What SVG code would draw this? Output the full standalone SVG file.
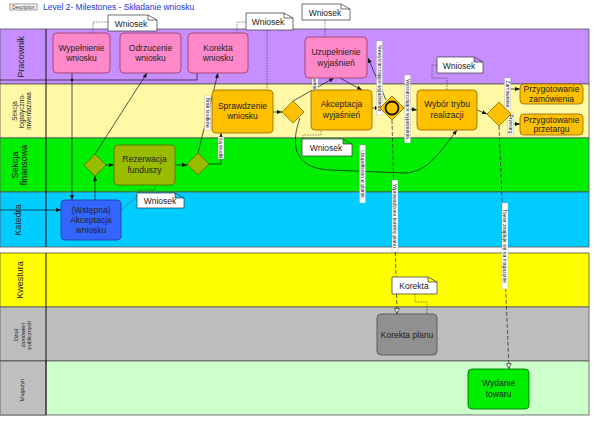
<svg xmlns="http://www.w3.org/2000/svg" width="593" height="421" viewBox="0 0 593 421">
<style>
text{font-family:"Liberation Sans",Arial,sans-serif;fill:#222}
.lane{stroke:#555;stroke-width:0.8}
.sep{stroke:#111;stroke-width:1}
.ll{font-size:9px;text-anchor:middle}
.ls{font-size:6.5px;text-anchor:middle}
.lt{font-size:5.5px;text-anchor:middle}
.task{stroke-width:0.9}
.pink{fill:#FF88C8;stroke:#A0406E}
.orange{fill:#FFC000;stroke:#A07000}
.olive{fill:#99BB00;stroke:#557700}
.blue{fill:#3366FF;stroke:#1F3FA0}
.gray{fill:#909090;stroke:#555}
.green{fill:#00EE00;stroke:#007700}
.tt{font-size:8.5px;text-anchor:middle}
.doc{fill:#fff;stroke:#333;stroke-width:0.7}
.seq{fill:none;stroke:#111;stroke-width:0.7;marker-end:url(#ah)}
.msg{fill:none;stroke:#222;stroke-width:0.7;stroke-dasharray:4 2;marker-end:url(#oh)}
.asc{fill:none;stroke:#333;stroke-width:0.6;stroke-dasharray:1.5 1.2}
.lb{fill:#fff;stroke:#999;stroke-width:0.3}
.lbt{font-size:5px;text-anchor:middle}
</style>
<defs>
<marker id="ah" viewBox="0 0 10 10" refX="10" refY="5" markerWidth="5" markerHeight="5" orient="auto" markerUnits="userSpaceOnUse"><path d="M0,1 L10,5 L0,9 Z" fill="#111"/></marker>
<marker id="oh" viewBox="0 0 10 10" refX="10" refY="5" markerWidth="6" markerHeight="6" orient="auto" markerUnits="userSpaceOnUse"><path d="M1,1 L9,5 L1,9 Z" fill="#fff" stroke="#222" stroke-width="1.2"/></marker>
</defs>

<g id="title">
<rect x="10" y="4" width="27" height="6" fill="#fff" stroke="#333" stroke-width="0.5"/>
<text x="23.5" y="8.7" style="font-size:4.5px;text-anchor:middle">Description</text>
<text x="43" y="10" style="font-size:8.5px;fill:#2233DD">Level 2- Milestones - Składanie wniosku</text>
</g>

<g id="pool-upper">
<rect x="0" y="29" width="589" height="55" fill="#C68EFF" class="lane"/>
<rect x="0" y="84" width="589" height="54" fill="#FFF9A6" class="lane"/>
<rect x="0" y="138" width="589" height="54" fill="#00EE00" class="lane"/>
<rect x="0" y="192" width="589" height="55" fill="#00CCFF" class="lane"/>
<line x1="46" y1="29" x2="46" y2="247" class="sep"/>
<text class="ll" transform="translate(24,57) rotate(-90)">Pracownik</text>
<text class="ls" transform="translate(22,111) rotate(-90)"><tspan x="0" y="-5">Sekcja</tspan><tspan x="0" y="2">logistyczno-</tspan><tspan x="0" y="9">inwentażowa</tspan></text>
<text class="ll" transform="translate(20,165) rotate(-90)"><tspan x="0" y="-2">Sekcja</tspan><tspan x="0" y="7">finansowa</tspan></text>
<text class="ll" transform="translate(21,220) rotate(-90)">Katedra</text>
</g>

<g id="pool-lower">
<rect x="0" y="253" width="589" height="54" fill="#FFFF00" class="lane"/>
<rect x="0" y="307" width="589" height="54" fill="#BDBDBD" class="lane"/>
<rect x="0" y="361" width="589" height="54" fill="#CCFFCC" class="lane"/>
<rect x="0" y="361" width="46" height="54" fill="#C0C0C0" class="lane"/>
<line x1="46" y1="253" x2="46" y2="415" class="sep"/>
<text class="ll" transform="translate(23,280) rotate(-90)">Kwestura</text>
<text class="lt" transform="translate(24,335) rotate(-90)"><tspan x="0" y="-6">Dział</tspan><tspan x="0" y="0.5">zamówień</tspan><tspan x="0" y="7">publicznych</tspan></text>
<text class="lt" transform="translate(24,390) rotate(-90)">Magazyn</text>
</g>

<g id="connectors">
<path class="seq" d="M0,210 H61"/>
<path d="M0,80 H197 V73" fill="none" stroke="#111" stroke-width="0.7"/>
<circle cx="72" cy="80" r="1.3" fill="#111"/>
<path class="seq" d="M72,73 V200"/>
<path class="seq" d="M95,200 V176"/>
<path class="seq" d="M106,165 H114"/>
<path class="seq" d="M95,154 L147,73"/>
<path class="seq" d="M175,165 H187"/>
<path class="seq" d="M198,153 L218,73"/>
<path class="seq" d="M209,164 H221 V133"/>
<path class="seq" d="M273,112 H282"/>
<path class="seq" d="M293,101 L334,78"/>
<path class="seq" d="M300,118 C292,140 290,168 330,170 L405,173 C428,172 440,152 457,130"/>
<path class="seq" d="M340,78 L362,90"/>
<path class="seq" d="M372,108 H380"/>
<path class="seq" d="M386,100 L368,58"/>
<path class="seq" d="M404,108 L417,110"/>
<path class="seq" d="M477,110 L487,114"/>
<path class="seq" d="M506,109 V89 H520"/>
<path class="seq" d="M510,116 V124 H520"/>
<path class="msg" d="M392,120 L397,314"/>
<path class="msg" d="M499,126 L509,369"/>
<path class="asc" d="M108,22 H93 V33"/>
<path class="asc" d="M246,22 H237 V33"/>
<path class="asc" d="M267,30 V90"/>
<path class="asc" d="M325,20 V37"/>
<path class="asc" d="M437,65 H432 V78 H447 V90"/>
<path class="asc" d="M303,139 V135 H321 V130"/>
<path class="asc" d="M137,196 L121,210"/>
<path class="asc" d="M139,193 V190 H155 V185"/>
<path class="asc" d="M415,294 V302 H427 V314"/>
</g>

<g id="labels">
<g transform="translate(207.5,113) rotate(90)"><rect class="lb" x="-17" y="-3" width="34" height="6"/><text class="lbt" x="0" y="1.8">Brak środków</text></g>
<g transform="translate(221,148) rotate(90)"><rect class="lb" x="-11" y="-3" width="22" height="6"/><text class="lbt" x="0" y="1.8">Są środki</text></g>
<g transform="translate(315,85) rotate(90)"><rect class="lb" x="-27" y="-3" width="54" height="6"/><text class="lbt" x="0" y="1.8">Nie uzupełniono planu</text></g>
<g transform="translate(379.5,78) rotate(90)"><rect class="lb" x="-37" y="-3" width="74" height="6"/><text class="lbt" x="0" y="1.8">Niewystarczające wyjaśnienia</text></g>
<g transform="translate(407.5,109) rotate(90)"><rect class="lb" x="-34" y="-3" width="68" height="6"/><text class="lbt" x="0" y="1.8">Wystarczające wyjaśnienia</text></g>
<g transform="translate(362.5,174) rotate(90)"><rect class="lb" x="-29" y="-3" width="58" height="6"/><text class="lbt" x="0" y="1.8">Uzupełniono w planie</text></g>
<g transform="translate(395,216) rotate(90)"><rect class="lb" x="-36" y="-3" width="72" height="6"/><text class="lbt" x="0" y="1.8">Wprowadzono korektę planu</text></g>
<g transform="translate(507.5,94) rotate(90)"><rect class="lb" x="-16" y="-3" width="32" height="6"/><text class="lbt" x="0" y="1.8">Zamówienie</text></g>
<g transform="translate(510.5,124) rotate(90)"><rect class="lb" x="-11" y="-3" width="22" height="6"/><text class="lbt" x="0" y="1.8">Przetarg</text></g>
<g transform="translate(505,246) rotate(90)"><rect class="lb" x="-43" y="-3" width="86" height="6"/><text class="lbt" x="0" y="1.8">Towar znajduje się na magazynie</text></g>
</g>

<g id="t-wypelnienie"><rect class="task pink" x="53" y="33" width="57" height="40" rx="4"/><text class="tt" x="81.5" y="50.5">Wypełnienie</text><text class="tt" x="81.5" y="61">wniosku</text></g>
<g id="t-odrzucenie"><rect class="task pink" x="120" y="33" width="61" height="40" rx="4"/><text class="tt" x="150.5" y="50.5">Odrzucenie</text><text class="tt" x="150.5" y="61">wniosku</text></g>
<g id="t-korekta"><rect class="task pink" x="188" y="33" width="60" height="40" rx="4"/><text class="tt" x="218" y="50.5">Korekta</text><text class="tt" x="218" y="61">wniosku</text></g>
<g id="t-uzupelnienie"><rect class="task pink" x="305" y="37" width="62" height="41" rx="4"/><text class="tt" x="336" y="55">Uzupełnienie</text><text class="tt" x="336" y="65.5">wyjaśnień</text></g>
<g id="t-sprawdzenie"><rect class="task orange" x="212" y="90" width="61" height="43" rx="4"/><text class="tt" x="242.5" y="108.5">Sprawdzenie</text><text class="tt" x="242.5" y="119">wniosku</text></g>
<g id="t-akceptacja-wyj"><rect class="task orange" x="311" y="90" width="61" height="40" rx="4"/><text class="tt" x="341.5" y="107">Akceptacja</text><text class="tt" x="341.5" y="117.5">wyjaśnień</text></g>
<g id="t-wybor"><rect class="task orange" x="417" y="90" width="60" height="40" rx="4"/><text class="tt" x="447" y="107">Wybór trybu</text><text class="tt" x="447" y="117.5">realizacji</text></g>
<g id="t-zamowienie"><rect class="task orange" x="520" y="84" width="63" height="20" rx="4"/><text class="tt" x="551.5" y="92">Przygotowanie</text><text class="tt" x="551.5" y="101.5">zamówienia</text></g>
<g id="t-przetarg"><rect class="task orange" x="520" y="114" width="63" height="21" rx="4"/><text class="tt" x="551.5" y="122.5">Przygotowanie</text><text class="tt" x="551.5" y="132">przetargu</text></g>
<g id="t-rezerwacja"><rect class="task olive" x="114" y="145" width="61" height="40" rx="4"/><text class="tt" x="144.5" y="162">Rezerwacja</text><text class="tt" x="144.5" y="172.5">funduszy</text></g>
<g id="t-wstepna"><rect class="task blue" x="61" y="200" width="60" height="40" rx="4"/><text class="tt" x="91" y="213">(Wstępna)</text><text class="tt" x="91" y="223">Akceptacja</text><text class="tt" x="91" y="233">wniosku</text></g>
<g id="t-korekta-planu"><rect class="task gray" x="377" y="314" width="60" height="41" rx="4"/><text class="tt" x="407" y="337.5">Korekta planu</text></g>
<g id="t-wydanie"><rect class="task green" x="468" y="369" width="61" height="40" rx="4"/><text class="tt" x="498.5" y="386">Wydanie</text><text class="tt" x="498.5" y="396.5">towaru</text></g>

<g id="g1"><path class="task olive" d="M95,154 L106,165 L95,176 L84,165 Z"/></g>
<g id="g2"><path class="task olive" d="M198,153 L209,164 L198,175 L187,164 Z"/></g>
<g id="g3"><path class="task orange" d="M293,101 L304,112 L293,123 L282,112 Z"/></g>
<g id="g4"><path class="task orange" d="M392,96 L404,108 L392,120 L380,108 Z"/><circle cx="392" cy="108" r="6.5" fill="none" stroke="#111" stroke-width="1.8"/></g>
<g id="g5"><path class="task orange" d="M499,102 L511,114 L499,126 L487,114 Z"/></g>

<g id="d1"><path class="doc" d="M108,15 H148 L157,20 V31 H108 Z M148,15 V20 H157"/><text class="tt" x="131" y="26.5">Wniosek</text></g>
<g id="d2"><path class="doc" d="M246,13 H284 L293,18 V30 H246 Z M284,13 V18 H293"/><text class="tt" x="268" y="25">Wniosek</text></g>
<g id="d3"><path class="doc" d="M302,4 H341 L350,9 V20 H302 Z M341,4 V9 H350"/><text class="tt" x="325" y="15.5">Wniosek</text></g>
<g id="d4"><path class="doc" d="M437,57 H474 L483,62 V73 H437 Z M474,57 V62 H483"/><text class="tt" x="459" y="68.5">Wniosek</text></g>
<g id="d5"><path class="doc" d="M302,139 H343 L352,144 V156 H302 Z M343,139 V144 H352"/><text class="tt" x="326" y="151">Wniosek</text></g>
<g id="d6"><path class="doc" d="M137,193 H175 L184,198 V208 H137 Z M175,193 V198 H184"/><text class="tt" x="160" y="204">Wniosek</text></g>
<g id="d7"><path class="doc" d="M392,277 H428 L437,282 V294 H392 Z M428,277 V282 H437"/><text class="tt" x="414" y="289">Korekta</text></g>
</svg>
